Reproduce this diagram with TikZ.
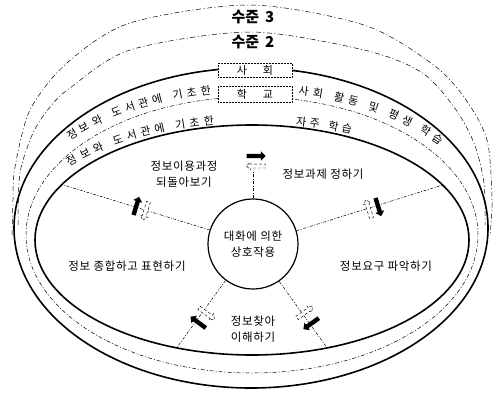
\documentclass[tikz,border=0pt]{standalone}
\usepackage{fontspec}
\newfontfamily\kr[LetterSpace=6]{Noto Sans CJK KR}
\newfontfamily\krc{Noto Sans CJK KR}
\usetikzlibrary{shapes.arrows,decorations.text,intersections}
\begin{document}
\begin{tikzpicture}[x=1pt,y=1pt,
  thickline/.style={line width=1.6pt},
  ringdash/.style={line width=0.5pt, dash pattern=on 4pt off 2pt on 1pt off 2pt},
  leveldash/.style={line width=0.5pt, dash pattern=on 5pt off 2.5pt on 1pt off 2.5pt},
  spoke/.style={line width=0.5pt, dash pattern=on 3pt off 1.5pt on 1pt off 1.5pt},
  lbl/.style={font=\kr\fontsize{11.5}{16}\selectfont, align=center, inner sep=0pt},
  levellbl/.style={font=\krc\bfseries\fontsize{15}{15}\selectfont, inner sep=0pt},
  boxlbl/.style={draw, densely dotted, line width=0.5pt, fill=white, minimum width=74pt, inner sep=0pt, font=\krc\fontsize{11}{11}\selectfont},
  blackarr/.style={single arrow, fill=black, minimum height=19pt, single arrow head extend=2.5pt, inner sep=0pt},
  whitearr/.style={single arrow, draw, fill=white, densely dashed, line width=0.45pt, minimum height=19pt, single arrow head extend=2pt, inner sep=0pt}
]
\useasboundingbox (0,0) rectangle (494,392);
\fill[white] (0,0) rectangle (494,392);
\clip (0,0) rectangle (494,392);

% level curves
\draw[leveldash] plot[smooth] coordinates {(12,157) (13,192) (15,225) (30,282) (67,329) (130,369) (250,387) (364,367) (431,329) (464,295) (487,252) (492,192) (490,157)};
\draw[leveldash] plot[smooth] coordinates {(18,167) (20,219) (33,259) (50,285) (70,304) (130,342) (250,360) (364,342) (421,320) (454,285) (474,249) (484,209) (485,167)};

% rings
\draw[thickline] (251,164) ellipse[x radius=237, y radius=160];
\draw[ringdash] (252,157) ellipse[x radius=226, y radius=138];
\draw[thickline, name path=inner] (252,152) ellipse[x radius=217, y radius=115];

% boxes
\node[boxlbl, minimum height=14pt] (sahoe) at (255,322) {사\hspace{16pt}회};
\node[boxlbl, minimum height=16pt] (hakgyo) at (255,298) {학\hspace{16pt}교};

% level labels
\node[levellbl] (lv3) at (253,375) {수준\hspace{6pt}3};
\node[levellbl] (lv2) at (253,350) {수준\hspace{6pt}2};

% curved ring texts
\path[decorate, decoration={text along path, text align=fit to path, text={|\krc\fontsize{11}{11}\selectfont|정보와 도서관에 기초한}}]
  ([shift={(139.3:240 and 140)}]252,160) arc[start angle=139.3, end angle=99.8, x radius=240, y radius=140];
\path[decorate, decoration={text along path, text align=fit to path, text={|\krc\fontsize{11}{11}\selectfont|사회 활동 및 평생 학습}}]
  ([shift={(78.9:240 and 140)}]252,160) arc[start angle=78.9, end angle=38.4, x radius=240, y radius=140];
\path[decorate, decoration={text along path, text align=fit to path, text={|\krc\fontsize{11}{11}\selectfont|정보와 도서관에 기초한}}]
  ([shift={(141.1:234 and 117)}]252,152) arc[start angle=141.1, end angle=99.3, x radius=234, y radius=117];
\path[decorate, decoration={text along path, text align=fit to path, text={|\krc\fontsize{11}{11}\selectfont|자주 학습}}]
  ([shift={(79.2:234 and 117)}]252,152) arc[start angle=79.2, end angle=65, x radius=234, y radius=117];

% centre circle
\node[circle, draw, line width=1.2pt, minimum size=90pt, inner sep=0pt, lbl, fill=white] (c) at (253,148) {대화에 의한\\상호작용};

% spokes
\path[name path=s1] (c.center) -- ++(162.7:300);
\path[name path=s2] (c.center) -- ++(17.3:300);
\path[name path=s3] (c.center) -- ++(233.7:300);
\path[name path=s4] (c.center) -- ++(305.5:300);
\path[name intersections={of=inner and s1, by=e1}];
\path[name intersections={of=inner and s2, by=e2}];
\path[name intersections={of=inner and s3, by=e3}];
\path[name intersections={of=inner and s4, by=e4}];
\coordinate (e0) at (253,220);
\draw[spoke] (c.90) -- (e0);
\draw[spoke] (c.162.7) -- (e1);
\draw[spoke] (c.17.3) -- (e2);
\draw[spoke] (c.233.7) -- (e3);
\draw[spoke] (c.305.5) -- (e4);

% arrows
\node[blackarr] (a0b) at (255,236) {\rule{0pt}{4pt}};
\node[whitearr, rotate=180] (a0w) at (257,226) {\rule{0pt}{3.5pt}};
\node[blackarr, rotate=72.7] (a1b) at (136,185) {\rule{0pt}{4pt}};
\node[whitearr, rotate=252.7] (a1w) at (146,182) {\rule{0pt}{3.5pt}};
\node[whitearr, rotate=107.3] (a2w) at (369,182) {\rule{0pt}{3.5pt}};
\node[blackarr, rotate=287.3] (a2b) at (378,186) {\rule{0pt}{4pt}};
\node[blackarr, rotate=143.7] (a3b) at (199,69) {\rule{0pt}{4pt}};
\node[whitearr, rotate=323.7] (a3w) at (206,79) {\rule{0pt}{3.5pt}};
\node[blackarr, rotate=215.5] (a4b) at (312,69) {\rule{0pt}{4pt}};
\node[whitearr, rotate=35.5] (a4w) at (304,79) {\rule{0pt}{3.5pt}};

% sector labels
\node[lbl] (s_review) at (184,218) {정보이용과정\\되돌아보기};
\node[lbl] (s_task) at (323,218) {정보과제 정하기};
\node[lbl] (s_synth) at (127,126) {정보 종합하고 표현하기};
\node[lbl] (s_need) at (386,126) {정보요구 파악하기};
\node[lbl] (s_find) at (253,63) {정보찾아\\이해하기};
\end{tikzpicture}
\end{document}
